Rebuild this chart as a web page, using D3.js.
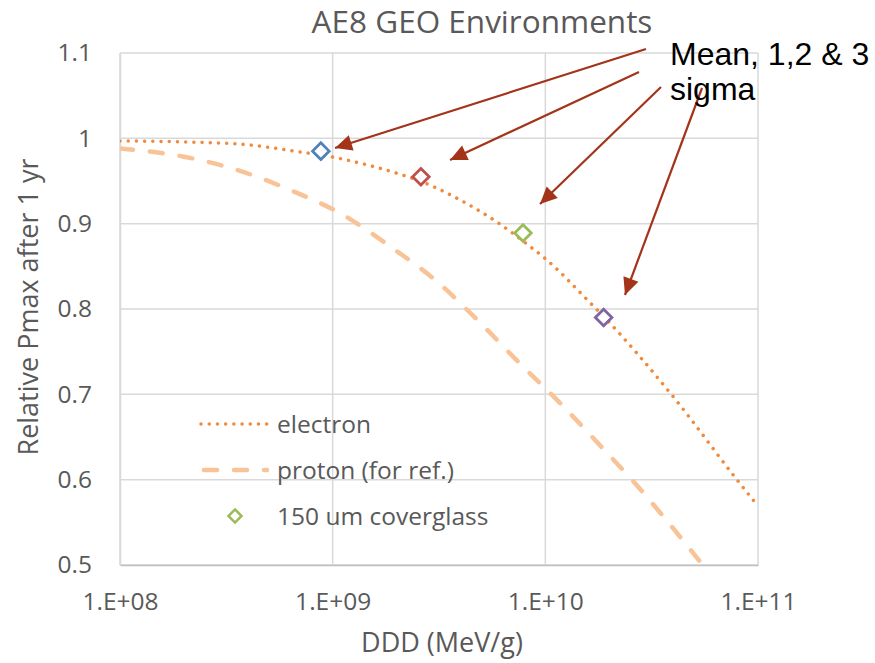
<!DOCTYPE html>
<html lang="en">
<head>
    <meta charset="UTF-8">
    <script src="https://d3js.org/d3.v7.min.js"></script>
    <title>AE8 GEO Environments</title>
    <style>
        body { margin: 0; background: #fff; }
        text { font-family: "Open Sans", Lato, sans-serif; fill: #595959; }
    </style>
</head>
<body>
    <svg width="875" height="663" id="chart"></svg>
    <script>

        // data (x = DDD in MeV/g, y = relative Pmax)
        const electronDDD = [1e8, 3.3e8, 7.05e8, 1e9, 1.5e9, 3.0e9, 4.1e9, 6.0e9, 8.5e9, 1e10, 1.6e10, 1.9e10, 4.0e10, 7.9e10, 1e11];
        const electronVal = [0.997, 0.994, 0.984, 0.978, 0.968, 0.943, 0.926, 0.901, 0.873, 0.859, 0.809, 0.790, 0.697, 0.601, 0.569];

        const protonDDD = [1e8, 2.0e8, 3.55e8, 6.3e8, 1.125e9, 1.87e9, 3.1e9, 4.93e9, 7.6e9, 1.17e10, 1.81e10, 2.55e10, 3.99e10, 5.5e10, 6.3e10];
        const protonVal = [0.988, 0.9785, 0.963, 0.9395, 0.910, 0.873, 0.832, 0.784, 0.736, 0.690, 0.640, 0.600, 0.543, 0.500, 0.482];

        const sigmaDDD = [8.8e8, 2.6e9, 7.85e9, 1.88e10];
        const sigmaVal = [0.985, 0.955, 0.889, 0.790];
        const sigmaColors = ["#4f81bd", "#c0504d", "#9bbb59", "#8064a2"];

        const xTicks = [1e8, 1e9, 1e10, 1e11];
        const yTicks = [0.5, 0.6, 0.7, 0.8, 0.9, 1.0, 1.1];

        const legendNames = ["electron", "proton (for ref.)", "150 um coverglass"];

        const svg = d3.select("#chart");

        const pLeft = 120, pRight = 758, pTop = 53, pBottom = 565;

        const x = d3.scaleLog().domain([1e8, 1e11]).range([pLeft, pRight]);
        const y = d3.scaleLinear().domain([0.5, 1.1]).range([pBottom, pTop]);

        // grid
        svg.append("g")
            .selectAll("line")
            .data(yTicks)
            .join("line")
            .attr("x1", pLeft).attr("x2", pRight)
            .attr("y1", d => y(d)).attr("y2", d => y(d))
            .attr("stroke", "#d9d9d9").attr("stroke-width", 1.5);

        svg.append("g")
            .selectAll("line")
            .data(xTicks)
            .join("line")
            .attr("x1", d => x(d)).attr("x2", d => x(d))
            .attr("y1", pTop).attr("y2", pBottom)
            .attr("stroke", "#d9d9d9").attr("stroke-width", 1.5);

        // axes (labels only)
        const xAxis = svg.append("g")
            .attr("transform", `translate(0,${pBottom})`)
            .call(d3.axisBottom(x).tickValues(xTicks).tickSize(0).tickPadding(28)
                .tickFormat(d => "1.E+" + String(Math.round(Math.log10(d))).padStart(2, "0")));
        xAxis.select(".domain").attr("stroke", "#bfbfbf").attr("stroke-width", 1.5);
        xAxis.selectAll("text").style("font-size", "24.5px").attr("fill", "#595959")
            .style("font-family", "'Open Sans', Lato, sans-serif");

        const yAxis = svg.append("g")
            .attr("transform", `translate(${pLeft},0)`)
            .call(d3.axisLeft(y).tickValues(yTicks).tickSize(0).tickPadding(28)
                .tickFormat(d => String(+d.toFixed(1))));
        yAxis.select(".domain").attr("stroke", "#d9d9d9").attr("stroke-width", 1.5);
        yAxis.selectAll("text").style("font-size", "24.5px").attr("fill", "#595959")
            .style("font-family", "'Open Sans', Lato, sans-serif");

        // clip for curves
        svg.append("clipPath").attr("id", "plotClip")
            .append("rect")
            .attr("x", pLeft).attr("y", pTop)
            .attr("width", pRight - pLeft).attr("height", pBottom - pTop + 2);

        const line = d3.line()
            .x(d => x(d[0]))
            .y(d => y(d[1]))
            .curve(d3.curveMonotoneX);

        // proton (dashed)
        svg.append("path")
            .attr("clip-path", "url(#plotClip)")
            .attr("d", line(d3.zip(protonDDD, protonVal)))
            .attr("fill", "none")
            .attr("stroke", "#f9c398")
            .attr("stroke-width", 4.5)
            .attr("stroke-linecap", "round")
            .attr("stroke-dasharray", "13,17");

        // electron (round dots)
        svg.append("path")
            .attr("clip-path", "url(#plotClip)")
            .attr("d", line(d3.zip(electronDDD, electronVal)))
            .attr("fill", "none")
            .attr("stroke", "#f08a3c")
            .attr("stroke-width", 3.5)
            .attr("stroke-linecap", "round")
            .attr("stroke-dasharray", "0.01,8.2");

        // markers
        const diamond = d3.symbol().type(d3.symbolDiamond2).size(175);
        svg.append("g")
            .selectAll("path")
            .data(d3.zip(sigmaDDD, sigmaVal, sigmaColors))
            .join("path")
            .attr("d", diamond)
            .attr("transform", d => `translate(${x(d[0])},${y(d[1])})`)
            .attr("fill", "white")
            .attr("stroke", d => d[2])
            .attr("stroke-width", 2.8);

        // legend
        const lg = svg.append("g");
        lg.append("line")
            .attr("x1", 201).attr("x2", 269).attr("y1", 424).attr("y2", 424)
            .attr("stroke", "#f08a3c").attr("stroke-width", 3.5)
            .attr("stroke-linecap", "round").attr("stroke-dasharray", "0.01,8.2");
        lg.append("line")
            .attr("x1", 204).attr("x2", 267).attr("y1", 470).attr("y2", 470)
            .attr("stroke", "#f9c398").attr("stroke-width", 4.5)
            .attr("stroke-linecap", "round").attr("stroke-dasharray", "13,17");
        lg.append("path")
            .attr("d", d3.symbol().type(d3.symbolDiamond2).size(110))
            .attr("transform", "translate(235,516)")
            .attr("fill", "white").attr("stroke", "#9bbb59").attr("stroke-width", 2.5);
        lg.selectAll("text")
            .data(legendNames)
            .join("text")
            .attr("x", 277)
            .attr("y", (d, i) => 433 + i * 46)
            .style("font-size", "24.5px")
            .text(d => d);

        // titles
        svg.append("text")
            .attr("x", 482).attr("y", 33)
            .attr("text-anchor", "middle")
            .style("font-size", "31.5px")
            .text("AE8 GEO Environments");

        svg.append("text")
            .attr("x", 442).attr("y", 652)
            .attr("text-anchor", "middle")
            .style("font-size", "27px")
            .text("DDD (MeV/g)");

        svg.append("text")
            .attr("transform", "translate(38,307) rotate(-90)")
            .attr("text-anchor", "middle")
            .style("font-size", "27px")
            .text("Relative Pmax after 1 yr");

        // annotation arrows: start near the note, end at each sigma point
        const arrowColor = "#a33419";
        const arrowStart = [[646, 49], [639, 72], [661, 87], [702, 88]];
        const arrowEnd = [[335, 148], [450, 160], [540, 204], [625, 295]];
        svg.append("g")
            .selectAll("line")
            .data(d3.zip(arrowStart, arrowEnd))
            .join("line")
            .attr("x1", d => d[0][0]).attr("y1", d => d[0][1])
            .attr("x2", d => d[1][0]).attr("y2", d => d[1][1])
            .attr("stroke", arrowColor)
            .attr("stroke-width", 2.2);

        svg.append("g")
            .selectAll("path")
            .data(d3.zip(arrowStart, arrowEnd))
            .join("path")
            .attr("d", "M0,0 L-17,-8 L-17,8 z")
            .attr("transform", d => {
                const a = Math.atan2(d[1][1] - d[0][1], d[1][0] - d[0][0]) * 180 / Math.PI;
                return `translate(${d[1][0]},${d[1][1]}) rotate(${a})`;
            })
            .attr("fill", arrowColor);

        const note = svg.append("text")
            .attr("x", 670).attr("y", 65)
            .style("font-family", "'Liberation Sans', Arial, sans-serif")
            .style("font-size", "32px")
            .style("fill", "#000");
        note.append("tspan").attr("x", 670).text("Mean, 1,2 & 3");
        note.append("tspan").attr("x", 670).attr("dy", 35).text("sigma");

    </script>
</body>
</html>
